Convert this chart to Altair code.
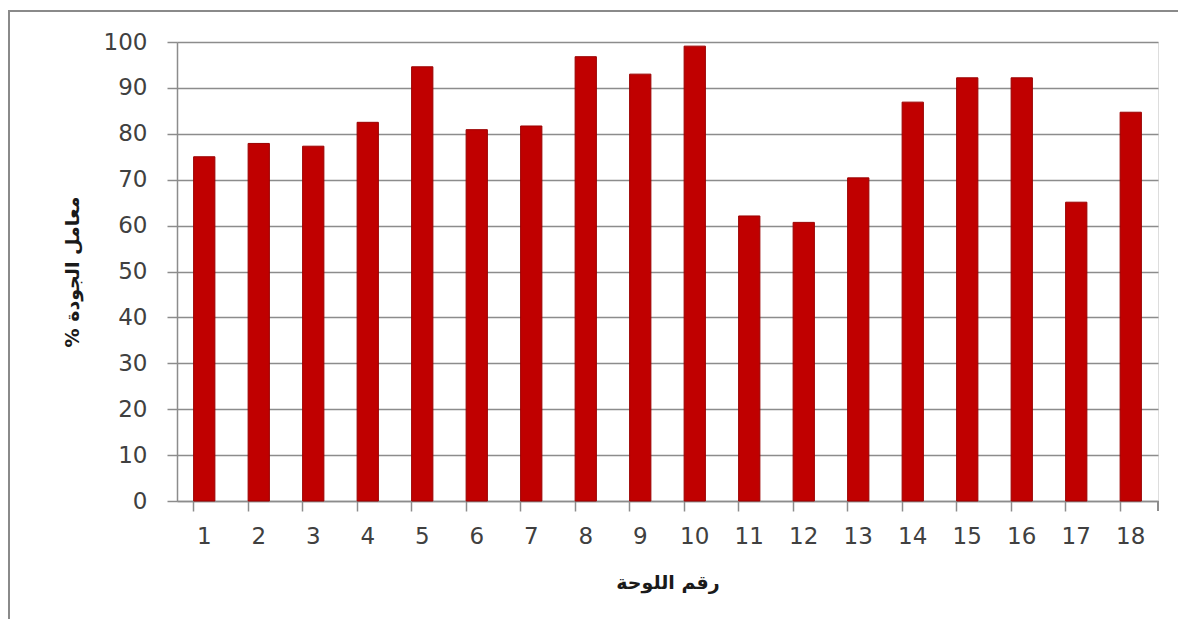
import altair as alt
import pandas as pd

panels = [str(i) for i in range(1, 19)]
quality = [75.0, 77.9, 77.3, 82.5, 94.6, 80.9, 81.7, 96.8, 93.0, 99.1,
           62.1, 60.7, 70.4, 86.9, 92.2, 92.2, 65.1, 84.7]

df = pd.DataFrame({"panel": panels, "quality": quality})

W, H = 981, 459

bars = alt.Chart(df).mark_bar(color="#C00000", stroke="#9A0000", strokeWidth=1).encode(
    x=alt.X("panel:N", sort=panels,
            scale=alt.Scale(paddingInner=0.61, paddingOuter=0.305),
            axis=alt.Axis(title="رقم اللوحة", labelAngle=0, bandPosition=0,
                          tickSize=10, tickColor="#8c8c8c", tickWidth=1.5,
                          domainColor="#8c8c8c", domainWidth=1.5,
                          labelFont="DejaVu Sans", labelFontSize=23, labelColor="#404040",
                          labelPadding=14,
                          titleFont="DejaVu Sans", titleFontSize=19, titleFontWeight="bold",
                          titleColor="#1a1a1a", titleX=W / 2, titleY=81,
                          titleBaseline="middle", titleAlign="center", grid=False)),
    y=alt.Y("quality:Q",
            scale=alt.Scale(domain=[0, 100], nice=False),
            axis=alt.Axis(title="معامل الجودة %\u200f", values=list(range(0, 101, 10)),
                          tickSize=10, tickColor="#8c8c8c", tickWidth=1.5,
                          domainColor="#8c8c8c", domainWidth=1.5,
                          gridColor="#8c8c8c", gridWidth=1.5,
                          labelFont="DejaVu Sans", labelFontSize=23, labelColor="#404040",
                          labelPadding=20,
                          titleFont="DejaVu Sans", titleFontSize=19, titleFontWeight="bold",
                          titleColor="#1a1a1a", titleX=-105, titleY=H / 2,
                          titleAngle=-90, titleBaseline="middle", titleAlign="center")),
)

frame_top = alt.Chart(df).mark_rule(color="#8a8a8a", strokeWidth=2).encode(
    x=alt.value(-169), x2=alt.value(W + 40), y=alt.value(-31)
)
frame_left = alt.Chart(df).mark_rule(color="#8a8a8a", strokeWidth=2).encode(
    x=alt.value(-168), y=alt.value(-31), y2=alt.value(H + 140)
)
end_tick = alt.Chart(df).mark_rule(color="#8c8c8c", strokeWidth=1.5).encode(
    x=alt.value(W), y=alt.value(H), y2=alt.value(H + 10)
)

chart = alt.layer(bars, frame_top, frame_left, end_tick).properties(
    width=W, height=H,
    padding={"left": 169, "top": 34, "right": 20, "bottom": 118},
    autosize=alt.AutoSizeParams(type="none"),
).configure_view(stroke=None).configure(background="white")

chart.save("out.html", embed_options={"renderer": "svg", "actions": False})
